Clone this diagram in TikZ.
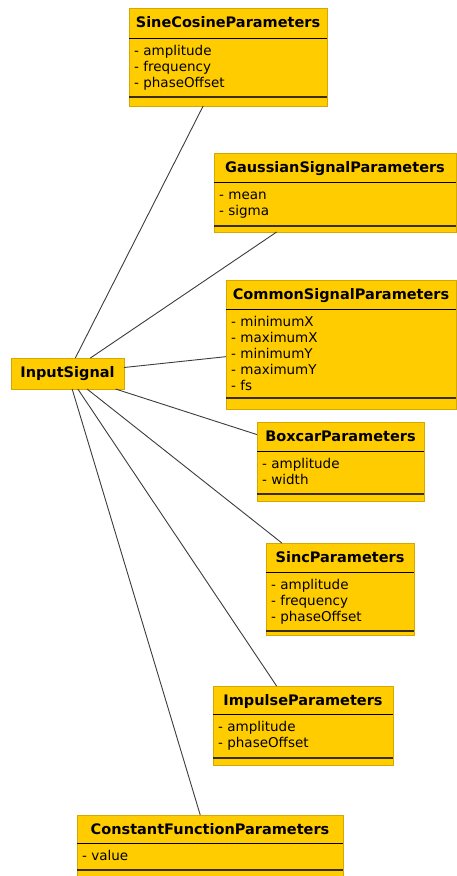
\documentclass[tikz,border=0pt]{standalone}
\usepackage{fontspec}
\setmainfont{DejaVu Sans}
\definecolor{umlfill}{HTML}{FFCC00}
\definecolor{umledge}{HTML}{D4A800}
\definecolor{umlsep}{HTML}{3A2E00}
\definecolor{conncol}{HTML}{3C3C3C}
\tikzset{
  x=1pt,y=-1pt,
  umlbox/.style={draw=umledge, fill=umlfill, line width=0.8pt, inner sep=0pt, outer sep=0pt, anchor=north west},
  hdrline/.style={draw=black, line width=1pt},
  endline/.style={draw=umlsep, line width=1.6pt},
  umltitle/.style={font=\fontsize{14.5}{16}\selectfont\bfseries, anchor=base, inner sep=0pt},
  umlattr/.style={font=\fontsize{13.5}{16}\selectfont, anchor=base west, inner sep=0pt},
  conn/.style={draw=conncol, line width=0.9pt},
}
% name, left, top, right, bottom, header line, end line, title
\newcommand\umlclass[8]{%
  \node[umlbox, minimum width={#4-#2}, minimum height={#5-#3}] (#1) at (#2,#3) {};
  \node[umltitle] (#1-t) at ({(#2+#4)/2},{#3+19.5}) {#8};
  \draw[hdrline] (#2,#6) -- (#4,#6);
  \draw[endline] (#2,#7) -- (#4,#7);
}
\begin{document}
\begin{tikzpicture}
\useasboundingbox (0,0) rectangle (457,876);

\umlclass{sc}{129}{8}{327}{106}{38}{97}{SineCosineParameters}
\node[umlattr] (sc-1) at (134,55) {- amplitude};
\node[umlattr] (sc-2) at (134,71) {- frequency};
\node[umlattr] (sc-3) at (134,87) {- phaseOffset};

\umlclass{ga}{214}{153}{456}{232}{182}{226}{GaussianSignalParameters}
\node[umlattr] (ga-1) at (219,199.5) {- mean};
\node[umlattr] (ga-2) at (219,215.5) {- sigma};

\umlclass{cs}{226}{280}{456}{409}{309}{398}{CommonSignalParameters}
\node[umlattr] (cs-1) at (231,326) {- minimumX};
\node[umlattr] (cs-2) at (231,342) {- maximumX};
\node[umlattr] (cs-3) at (231,358) {- minimumY};
\node[umlattr] (cs-4) at (231,374) {- maximumY};
\node[umlattr] (cs-5) at (231,390) {- fs};

\node[umlbox, minimum width=113, minimum height=31] (is) at (11,358) {};
\node[umltitle] (is-t) at (67.5,377) {InputSignal};

\umlclass{bx}{257}{422}{424}{501}{451}{494}{BoxcarParameters}
\node[umlattr] (bx-1) at (262,468) {- amplitude};
\node[umlattr] (bx-2) at (262,484) {- width};

\umlclass{si}{266}{543}{414}{635}{572}{631}{SincParameters}
\node[umlattr] (si-1) at (271,589) {- amplitude};
\node[umlattr] (si-2) at (271,605) {- frequency};
\node[umlattr] (si-3) at (271,621) {- phaseOffset};

\umlclass{im}{213}{686}{393}{765}{714}{758}{ImpulseParameters}
\node[umlattr] (im-1) at (218,731) {- amplitude};
\node[umlattr] (im-2) at (218,747) {- phaseOffset};

\umlclass{cf}{77}{815}{343}{880}{843}{870}{ConstantFunctionParameters}
\node[umlattr] (cf-1) at (82,860) {- value};

\draw[conn] (is) -- (sc);
\draw[conn] (is) -- (ga);
\draw[conn] (is) -- (cs);
\draw[conn] (is) -- (bx);
\draw[conn] (is) -- (si);
\draw[conn] (is) -- (im);
\draw[conn] (is) -- (cf);
\end{tikzpicture}
\end{document}
